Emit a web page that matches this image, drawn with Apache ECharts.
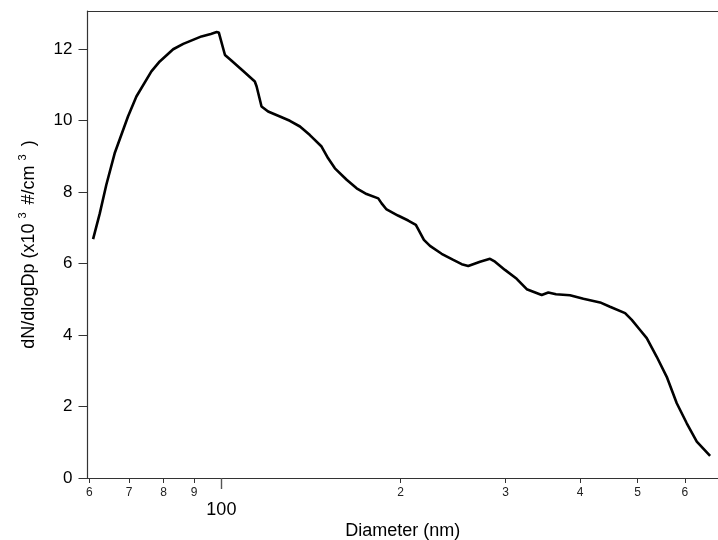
<!DOCTYPE html>
<html>
<head>
<meta charset="utf-8">
<script src="https://cdn.jsdelivr.net/npm/echarts@6/dist/echarts.min.js"></script>
<style>
  html, body { margin: 0; padding: 0; background: #fff; }
  #chart { width: 718px; height: 540px; }
</style>
</head>
<body>
<div id="chart"></div>
<script>
// Particle size distribution: diameter (nm) vs dN/dlogDp (x10^3 #/cm^3)
const diameters = [
  60.9, 62.5, 64.1, 66.2, 69.7, 72.0, 76.3, 78.8, 83.0, 86.3,
  92.6, 96.0, 98.2, 99.0, 101.4, 103.7, 108.8, 113.8, 114.6, 116.8,
  119.8, 125.4, 130.3, 135.5, 140.8, 147.3, 151.1, 155.1, 162.3, 168.7,
  175.3, 183.4, 185.8, 189.4, 197.9, 205.9, 212.1, 218.8, 224.0, 234.3,
  245.1, 253.2, 259.7, 271.8, 282.5, 288.0, 299.3, 313.2, 325.6, 345.0,
  353.9, 364.6, 384.8, 405.3, 432.3, 449.2, 476.2, 488.7, 504.6, 517.8,
  538.2, 559.4, 581.5, 604.4, 628.3, 661.5
];
const concentrations = [
  6.68, 7.40, 8.20, 9.08, 10.11, 10.67, 11.37, 11.65, 11.99, 12.14,
  12.35, 12.42, 12.47, 12.46, 11.83, 11.69, 11.38, 11.09, 10.95, 10.39,
  10.25, 10.11, 9.99, 9.83, 9.59, 9.27, 8.94, 8.66, 8.34, 8.10,
  7.94, 7.82, 7.68, 7.51, 7.34, 7.20, 7.08, 6.66, 6.49, 6.27,
  6.10, 5.98, 5.93, 6.05, 6.13, 6.05, 5.82, 5.57, 5.28, 5.12,
  5.19, 5.14, 5.11, 5.01, 4.91, 4.79, 4.61, 4.42, 4.14, 3.91,
  3.39, 2.83, 2.09, 1.53, 1.02, 0.62
];

// Axis ticks and their labels
const xTickValues = [60, 70, 80, 90, 100, 200, 300, 400, 500, 600];
const xTickLabels = ['6', '7', '8', '9', '100', '2', '3', '4', '5', '6'];
const xMajorTicks = [100];
const yTickValues = [0, 2, 4, 6, 8, 10, 12];

const X_MIN = 59.6, X_MAX = 682;
const Y_MIN = 0, Y_MAX = 13.06;
const FONT = '"Liberation Sans", Arial, sans-serif';

const chart = echarts.init(document.getElementById('chart'), null, { renderer: 'canvas' });

const seriesData = diameters.map((d, i) => [d, concentrations[i]]);

chart.setOption({
  animation: false,
  backgroundColor: '#fff',
  grid: { left: 87.5, right: 0, top: 11, bottom: 62, containLabel: false, outerBoundsMode: 'none' },
  xAxis: [
    {
      type: 'log', logBase: 10, min: X_MIN, max: X_MAX,
      position: 'bottom',
      name: 'Diameter (nm)', nameLocation: 'middle', nameGap: 44, nameMoveOverlap: false,
      nameTextStyle: { fontFamily: FONT, fontSize: 18, color: '#000' },
      axisLine: { show: true, lineStyle: { color: '#333', width: 1.2 } },
      axisTick: { show: true, inside: false, length: 5, customValues: xTickValues,
                  lineStyle: { color: '#333', width: 1 } },
      minorTick: { show: false },
      axisLabel: {
        show: true, margin: 9, customValues: xTickValues,
        fontFamily: FONT, fontSize: 12, color: '#222',
        formatter: function (v) {
          let idx = xTickValues.findIndex(t => Math.abs(t - v) < 1e-6 * t);
          if (idx < 0) return '';
          const s = xTickLabels[idx];
          return xMajorTicks.indexOf(xTickValues[idx]) >= 0 ? '{big|' + s + '}' : s;
        },
        rich: { big: { fontFamily: FONT, fontSize: 18, color: '#000', padding: [14, 0, 0, 0] } }
      },
      splitLine: { show: false }
    },
    {
      // longer tick for the decade mark
      type: 'log', logBase: 10, min: X_MIN, max: X_MAX,
      position: 'bottom', offset: 0,
      axisLine: { show: false },
      axisTick: { show: true, length: 11, customValues: xMajorTicks,
                  lineStyle: { color: '#555', width: 1.4 } },
      axisLabel: { show: false },
      splitLine: { show: false }
    },
    {
      // top frame line
      type: 'log', logBase: 10, min: X_MIN, max: X_MAX,
      position: 'top',
      axisLine: { show: true, lineStyle: { color: '#333', width: 1.2 } },
      axisTick: { show: false },
      axisLabel: { show: false },
      splitLine: { show: false }
    }
  ],
  yAxis: {
    type: 'value', min: Y_MIN, max: Y_MAX,
    name: 'dN/dlogDp (x10{sup|3} #/cm{sup|3} )',
    nameLocation: 'middle', nameGap: 46, nameRotate: 90, nameMoveOverlap: false,
    nameTextStyle: {
      fontFamily: FONT, fontSize: 18, color: '#000',
      rich: {
        sup: { fontFamily: FONT, fontSize: 11, color: '#000', padding: [0, 3, 13, 5] }
      }
    },
    axisLine: { show: true, lineStyle: { color: '#333', width: 1.2 } },
    axisTick: { show: true, length: 9, customValues: yTickValues,
                lineStyle: { color: '#333', width: 1 } },
    axisLabel: { show: true, margin: 15, customValues: yTickValues,
                 fontFamily: FONT, fontSize: 17, color: '#000' },
    splitLine: { show: false }
  },
  series: [
    {
      type: 'line', xAxisIndex: 0, yAxisIndex: 0,
      data: seriesData,
      showSymbol: false, smooth: false,
      lineStyle: { color: '#000', width: 2.6 },
      clip: true
    }
  ]
});
</script>
</body>
</html>
